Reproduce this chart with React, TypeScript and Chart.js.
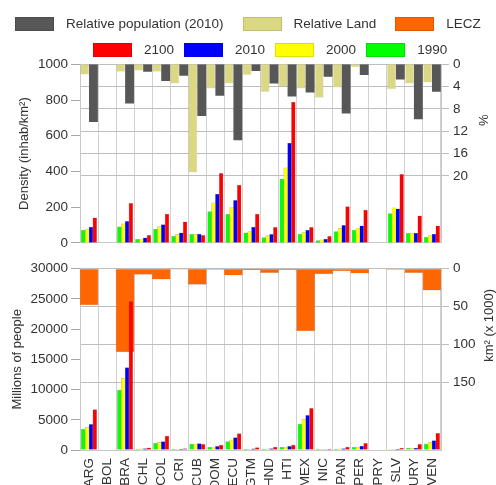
import React, { useEffect, useRef } from "react";
import { Chart, registerables } from "chart.js";

Chart.register(...registerables);

const countries = ["ARG", "BOL", "BRA", "CHL", "COL", "CRI", "CUB", "DOM", "ECU", "GTM", "HND", "HTI", "MEX", "NIC", "PAN", "PER", "PRY", "SLV", "URY", "VEN"];

// Top panel: density (inhab/km²)
const density1990 = [72, null, 90, 20, 77, 37, 48, 175, 160, 57, 30, 357, 50, 13, 64, 72, null, 164, 53, 31];
const density2000 = [77, null, 107, 22, 92, 48, 48, 224, 198, 64, 41, 421, 59, 17, 81, 83, null, 197, 55, 41];
const density2010 = [88, null, 121, 28, 103, 57, 50, 274, 239, 88, 48, 559, 72, 22, 99, 96, null, 191, 55, 50];
const density2100 = [140, null, 221, 42, 162, 118, 42, 390, 324, 162, 87, 788, 87, 37, 204, 184, null, 384, 151, 96];

// Top panel: relative land / relative population (%)
const relativeLand = [1.8, null, 1.3, 1.1, 1.3, 3.4, 19.1, 4.25, 3.4, 1.9, 4.9, 3.96, 4.25, 5.9, 4.1, 0.5, null, 4.4, 3.4, 3.2];
const relativePop2010 = [10.2, null, 6.9, 1.3, 2.95, 2.0, 9.1, 5.55, 13.4, 1.2, 3.4, 5.7, 4.96, 2.2, 8.7, 1.9, null, 2.66, 9.7, 4.85];

// Bottom panel: LECZ area (km² x 1000)
const leczArea = [48, null, 110, 7.5, 13.7, 0.5, 20.8, 0.8, 8.4, 1.7, 5.3, 1.2, 82.5, 7, 3, 6, null, 0.8, 5.3, 28.3];

// Bottom panel: millions of people
const pop1990 = [3475, null, 9930, 165, 1100, 100, 990, 440, 1380, 100, 150, 440, 4300, 60, 150, 440, null, 80, 280, 990];
const pop2000 = [3750, null, 11900, 200, 1270, 120, 990, 500, 1650, 130, 180, 470, 5080, 70, 180, 470, null, 100, 280, 1270];
const pop2010 = [4250, null, 13620, 250, 1380, 140, 1050, 600, 2040, 200, 250, 600, 5740, 90, 250, 660, null, 150, 300, 1540];
const pop2100 = [6670, null, 24540, 350, 2320, 250, 940, 830, 2700, 400, 500, 830, 6900, 150, 500, 1100, null, 330, 940, 2760];

const densityTicks = { min: 0, max: 1000, step: 200 };
const percentTicks = { min: 0, max: 32, step: 4, shownMax: 20 };
const peopleTicks = { min: 0, max: 30000, step: 5000 };
const areaTicks = { min: 0, max: 240, step: 50, shownMax: 150 };

const FONT = "'Liberation Sans', Arial, Helvetica, sans-serif";
const TEXT = "#333333";
const C_RED = "#ff0000";
const C_BLUE = "#0000ff";
const C_YELLOW = "#ffff00";
const C_GREEN = "#00ff00";
const C_TAN = "#dbd884";
const C_DARK = "#575757";
const C_ORANGE = "#ff6600";
const GRID_H = "#bdbdbd";
const GRID_V = "#d0d0d0";
const EDGE = "rgba(0,0,0,0.28)";

const LEFT_W = 80;
const RIGHT_W = 55;
const TOP_PAD = { top: 14.3, bottom: 9.3 };

const legendRow1 = [
  { label: "Relative population (2010)", color: C_DARK },
  { label: "Relative Land", color: C_TAN },
  { label: "LECZ", color: C_ORANGE },
];
const legendRow2 = [
  { label: "2100", color: C_RED },
  { label: "2010", color: C_BLUE },
  { label: "2000", color: C_YELLOW },
  { label: "1990", color: C_GREEN },
];

function titlesPlugin(leftText: string, leftX: number, rightText: string, rightId: string, rightShownMax: number, rightX: number) {
  return {
    id: "axisTitles",
    afterDraw(chart: any) {
      const ctx = chart.ctx;
      const { top, bottom } = chart.chartArea;
      ctx.save();
      ctx.fillStyle = TEXT;
      ctx.font = `13px ${FONT}`;
      ctx.textAlign = "center";
      ctx.textBaseline = "middle";
      ctx.translate(leftX, (top + bottom) / 2);
      ctx.rotate(-Math.PI / 2);
      ctx.fillText(leftText, 0, 0);
      ctx.restore();

      const rs = chart.scales[rightId];
      const cy = (rs.getPixelForValue(0) + rs.getPixelForValue(rightShownMax)) / 2;
      ctx.save();
      ctx.fillStyle = TEXT;
      ctx.font = `13px ${FONT}`;
      ctx.textAlign = "center";
      ctx.textBaseline = "middle";
      ctx.translate(rightX, cy);
      ctx.rotate(-Math.PI / 2);
      ctx.fillText(rightText, 0, 0);
      ctx.restore();
    },
  };
}

const tickFont = { family: FONT, size: 13.5 };
const plain = (v: any) => String(v);

function leftAxis(t: { min: number; max: number; step: number }) {
  return {
    position: "left",
    min: t.min,
    max: t.max,
    ticks: { stepSize: t.step, color: TEXT, font: tickFont, padding: 3, callback: plain },
    grid: { drawOnChartArea: false, drawTicks: true, tickLength: 9, color: "#a8a8a8" },
    border: { display: true, color: "#c8c8c8" },
    afterFit: (s: any) => {
      s.width = LEFT_W;
    },
  };
}

function rightAxis(t: { min: number; max: number; step: number; shownMax: number }) {
  return {
    position: "right",
    reverse: true,
    min: t.min,
    max: t.max,
    ticks: { stepSize: t.step, color: TEXT, font: tickFont, padding: 4, callback: plain },
    afterBuildTicks: (s: any) => {
      s.ticks = s.ticks.filter((tk: any) => tk.value <= t.shownMax);
    },
    grid: { drawOnChartArea: true, drawTicks: true, tickLength: 8, color: GRID_H },
    border: { display: true, color: "#c8c8c8" },
    afterFit: (s: any) => {
      s.width = RIGHT_W;
    },
  };
}

const popBar = { barThickness: 3.85, borderWidth: 0.5, borderColor: EDGE, grouped: true };
const baseOpts = {
  animation: false,
  responsive: false,
  maintainAspectRatio: false,
  plugins: { legend: { display: false }, tooltip: { enabled: false } },
};

export default function App() {
  const topRef = useRef<HTMLCanvasElement>(null);
  const overRef = useRef<HTMLCanvasElement>(null);
  const botRef = useRef<HTMLCanvasElement>(null);

  useEffect(() => {
    const top = new Chart(topRef.current as HTMLCanvasElement, {
      type: "bar",
      data: {
        labels: countries,
        datasets: [
          { label: "1990", data: density1990, backgroundColor: C_GREEN, yAxisID: "y", ...popBar },
          { label: "2000", data: density2000, backgroundColor: C_YELLOW, yAxisID: "y", ...popBar },
          { label: "2010", data: density2010, backgroundColor: C_BLUE, yAxisID: "y", ...popBar },
          { label: "2100", data: density2100, backgroundColor: C_RED, yAxisID: "y", ...popBar },
        ] as any,
      },
      options: {
        ...baseOpts,
        layout: { padding: { top: TOP_PAD.top, bottom: TOP_PAD.bottom, left: 0, right: 0 } },
        scales: {
          x: {
            type: "category",
            position: "bottom",
            offset: true,
            grid: { offset: true, color: GRID_V, drawTicks: false },
            ticks: { display: false },
            border: { display: true, color: "#c8c8c8" },
          },
          y: leftAxis(densityTicks),
          yR: rightAxis(percentTicks),
        } as any,
      } as any,
      plugins: [titlesPlugin("Density (inhab/km²)", 24, "%", "yR", percentTicks.shownMax, 484)],
    });

    // overlay with the hanging "relative" bars, same plot area as the top panel
    const over = new Chart(overRef.current as HTMLCanvasElement, {
      type: "bar",
      data: {
        labels: countries,
        datasets: [
          { label: "Relative Land", data: relativeLand, backgroundColor: C_TAN, borderWidth: 0.5, borderColor: "rgba(0,0,0,0.15)" },
          { label: "Relative population (2010)", data: relativePop2010, backgroundColor: C_DARK, borderWidth: 0 },
        ] as any,
      },
      options: {
        ...baseOpts,
        layout: { padding: { top: TOP_PAD.top, bottom: TOP_PAD.bottom, left: LEFT_W, right: RIGHT_W } },
        datasets: { bar: { categoryPercentage: 0.98, barPercentage: 1 } },
        scales: {
          x: { type: "category", offset: true, display: false },
          y: { type: "linear", reverse: true, min: percentTicks.min, max: percentTicks.max, display: false },
        },
      } as any,
    });

    const bot = new Chart(botRef.current as HTMLCanvasElement, {
      type: "bar",
      data: {
        labels: countries,
        datasets: [
          { label: "1990", data: pop1990, backgroundColor: C_GREEN, yAxisID: "y", ...popBar },
          { label: "2000", data: pop2000, backgroundColor: C_YELLOW, yAxisID: "y", ...popBar },
          { label: "2010", data: pop2010, backgroundColor: C_BLUE, yAxisID: "y", ...popBar },
          { label: "2100", data: pop2100, backgroundColor: C_RED, yAxisID: "y", ...popBar },
          { label: "LECZ", data: leczArea, backgroundColor: C_ORANGE, borderWidth: 0.5, borderColor: "rgba(120,40,0,0.3)", yAxisID: "yR", grouped: false, categoryPercentage: 1, barPercentage: 1, order: 1 },
        ] as any,
      },
      options: {
        ...baseOpts,
        layout: { padding: { top: 13.7, bottom: 0, left: 0, right: 0 } },
        scales: {
          x: {
            type: "category",
            position: "bottom",
            offset: true,
            grid: { offset: true, color: GRID_V, drawTicks: false },
            ticks: { color: TEXT, font: tickFont, minRotation: 90, maxRotation: 90, autoSkip: false, padding: 8 },
            border: { display: true, color: "#c8c8c8" },
            afterFit: (s: any) => {
              s.height = 35;
            },
          },
          y: leftAxis(peopleTicks),
          yR: rightAxis(areaTicks),
        } as any,
      } as any,
      plugins: [titlesPlugin("Millions of people", 17, "km² (x 1000)", "yR", areaTicks.shownMax, 489)],
    });

    return () => {
      top.destroy();
      over.destroy();
      bot.destroy();
    };
  }, []);

  const box = (color: string) => ({
    width: 39,
    height: 14,
    background: color,
    border: "1px solid rgba(0,0,0,0.12)",
    boxSizing: "border-box" as const,
    marginRight: 12,
    flex: "none",
  });

  const rowStyle = (left: number, top: number, gap: number) => ({
    position: "absolute" as const,
    left,
    top,
    display: "flex",
    alignItems: "center",
    gap,
    fontFamily: FONT,
    fontSize: 13.5,
    lineHeight: "14px",
    color: TEXT,
    whiteSpace: "nowrap" as const,
  });

  const cv = (top: number, height: number) => ({ position: "absolute" as const, left: 0, top, width: 496, height });

  return (
    <div style={{ position: "absolute", left: 0, top: 0, width: 496, height: 485, overflow: "hidden", background: "#ffffff" }}>
      <canvas ref={topRef} width={496} height={205} style={cv(50, 205)} />
      <canvas ref={overRef} width={496} height={205} style={cv(50, 205)} />
      <canvas ref={botRef} width={496} height={230} style={cv(255, 230)} />
      <div style={rowStyle(15, 17, 19)}>
        {legendRow1.map((it) => (
          <div key={it.label} style={{ display: "flex", alignItems: "center" }}>
            <div style={box(it.color)} />
            <span>{it.label}</span>
          </div>
        ))}
      </div>
      <div style={rowStyle(93, 43, 10)}>
        {legendRow2.map((it) => (
          <div key={it.label} style={{ display: "flex", alignItems: "center" }}>
            <div style={box(it.color)} />
            <span>{it.label}</span>
          </div>
        ))}
      </div>
    </div>
  );
}
